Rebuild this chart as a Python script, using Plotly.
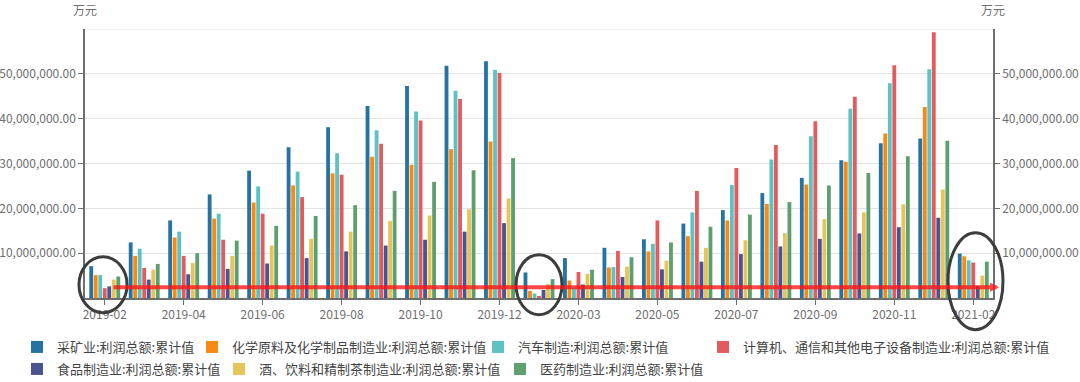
import plotly.graph_objects as go

categories = [
    "2019-02", "2019-03", "2019-04", "2019-05", "2019-06", "2019-07", "2019-08",
    "2019-09", "2019-10", "2019-11", "2019-12",
    "2020-02", "2020-03", "2020-04", "2020-05", "2020-06", "2020-07", "2020-08",
    "2020-09", "2020-10", "2020-11", "2020-12",
    "2021-02",
]
tick_labels = ["2019-02", "2019-04", "2019-06", "2019-08", "2019-10", "2019-12",
               "2020-03", "2020-05", "2020-07", "2020-09", "2020-11", "2021-02"]

mining = [7.1e6, 12.4e6, 17.3e6, 23.1e6, 28.4e6, 33.6e6, 38.1e6, 42.8e6, 47.3e6, 51.8e6, 52.8e6,
          5.7e6, 8.9e6, 11.2e6, 13.1e6, 16.6e6, 19.6e6, 23.4e6, 26.8e6, 30.7e6, 34.5e6, 35.6e6,
          9.9e6]
chemical = [5.1e6, 9.4e6, 13.5e6, 17.7e6, 21.3e6, 25.1e6, 27.8e6, 31.5e6, 29.7e6, 33.2e6, 34.9e6,
            1.6e6, 3.9e6, 6.8e6, 10.4e6, 13.8e6, 17.3e6, 21.0e6, 25.3e6, 30.4e6, 36.7e6, 42.6e6,
            9.3e6]
auto = [5.1e6, 11.0e6, 14.8e6, 18.8e6, 24.9e6, 28.2e6, 32.3e6, 37.4e6, 41.6e6, 46.2e6, 50.9e6,
        1.0e6, 2.2e6, 6.9e6, 12.1e6, 19.1e6, 25.2e6, 30.9e6, 36.1e6, 42.2e6, 47.9e6, 51.0e6,
        8.4e6]
electronics = [2.2e6, 6.7e6, 9.4e6, 13.0e6, 18.8e6, 22.5e6, 27.5e6, 34.4e6, 39.6e6, 44.4e6, 50.2e6,
               0.4e6, 5.8e6, 10.5e6, 17.3e6, 23.9e6, 29.0e6, 34.1e6, 39.4e6, 44.9e6, 51.9e6, 59.3e6,
               7.9e6]
food = [2.6e6, 4.1e6, 5.3e6, 6.5e6, 7.7e6, 8.9e6, 10.4e6, 11.7e6, 13.0e6, 14.8e6, 16.7e6,
        1.8e6, 3.0e6, 4.7e6, 6.4e6, 8.1e6, 9.8e6, 11.5e6, 13.2e6, 14.4e6, 15.8e6, 17.9e6,
        2.7e6]
beverage = [4.1e6, 6.3e6, 7.8e6, 9.4e6, 11.7e6, 13.2e6, 14.8e6, 17.2e6, 18.4e6, 19.8e6, 22.2e6,
            3.1e6, 5.4e6, 7.0e6, 8.3e6, 11.2e6, 12.9e6, 14.5e6, 17.6e6, 19.1e6, 20.9e6, 24.2e6,
            5.0e6]
pharma = [4.8e6, 7.6e6, 10.0e6, 12.8e6, 16.1e6, 18.3e6, 20.7e6, 23.9e6, 25.9e6, 28.5e6, 31.2e6,
          4.2e6, 6.3e6, 9.1e6, 12.4e6, 15.9e6, 18.6e6, 21.4e6, 25.1e6, 27.9e6, 31.6e6, 35.1e6,
          8.1e6]

series_names = [
    "采矿业:利润总额:累计值",
    "化学原料及化学制品制造业:利润总额:累计值",
    "汽车制造:利润总额:累计值",
    "计算机、通信和其他电子设备制造业:利润总额:累计值",
    "食品制造业:利润总额:累计值",
    "酒、饮料和精制茶制造业:利润总额:累计值",
    "医药制造业:利润总额:累计值",
]
series_values = [mining, chemical, auto, electronics, food, beverage, pharma]
colors = ["#2473a3", "#f88a14", "#5ec2c2", "#e05c5f", "#4a5490", "#e6c45c", "#5f9e6e"]

y_ticks = [10e6, 20e6, 30e6, 40e6, 50e6]
y_max = 60e6
line_level = 2.4e6
unit = "万元"

FONT = "Noto Sans CJK SC, Microsoft YaHei, sans-serif"
W, H = 1080, 382

# legend entry positions (text start x, row centre y) in pixels
legend_pos = [(57, 347), (232, 347), (518, 347), (743, 347),
              (57, 369), (259, 369), (540, 369)]

fig = go.Figure()
for i, (name, vals, c) in enumerate(zip(series_names, series_values, colors)):
    lg = "legend" if i == 0 else f"legend{i + 1}"
    fig.add_trace(go.Bar(x=categories, y=vals, name=name, legend=lg,
                         marker=dict(color=c, line=dict(width=0))))

fig.add_trace(go.Scatter(x=[categories[0]], y=[None], yaxis="y2", showlegend=False,
                         hoverinfo="skip", mode="lines"))

tick_text = [f"{v:,.2f}" for v in y_ticks]
axis_common = dict(
    range=[0, y_max], tickmode="array", tickvals=y_ticks, ticktext=tick_text,
    showline=True, linecolor="#6e6e6e", linewidth=1.5, ticks="outside", ticklen=5,
    tickcolor="#6e6e6e", tickfont=dict(size=12, color="#6e6e6e", family=FONT),
    zeroline=False, fixedrange=True, automargin=False,
)

layout_legends = {}
for i, (tx, ty) in enumerate(legend_pos):
    key = "legend" if i == 0 else f"legend{i + 1}"
    layout_legends[key] = dict(
        orientation="h", xref="container", yref="container",
        x=(tx - 40) / W, xanchor="left", y=1 - ty / H, yanchor="middle",
        font=dict(size=13, color="#444", family=FONT),
        itemwidth=30, bgcolor="rgba(0,0,0,0)", borderwidth=0,
    )

fig.update_layout(
    width=W, height=H,
    margin=dict(l=85, r=87, t=29, b=84, autoexpand=False),
    paper_bgcolor="white", plot_bgcolor="white",
    barmode="group", bargap=0.2, bargroupgap=0.15,
    font=dict(family=FONT, color="#555"),
    xaxis=dict(
        type="category", range=[-0.5, len(categories) - 0.5],
        tickmode="array", tickvals=tick_labels, ticktext=tick_labels,
        showline=True, linecolor="#6e6e6e", linewidth=1.5, ticks="outside", ticklen=5,
        tickcolor="#6e6e6e", tickfont=dict(size=12, color="#6e6e6e", family=FONT),
        showgrid=False, automargin=False, fixedrange=True,
    ),
    yaxis=dict(showgrid=True, gridcolor="#e3e3e3", gridwidth=1, **axis_common),
    yaxis2=dict(overlaying="y", side="right", showgrid=False, **axis_common),
    showlegend=True,
    **layout_legends,
)

# top grid line at axis max
fig.add_shape(type="line", xref="paper", yref="y", x0=0, x1=1, y0=y_max, y1=y_max,
              line=dict(color="#e3e3e3", width=1), layer="below")

# unit labels
for xp in (0.0, 1.0):
    fig.add_annotation(text=unit, xref="paper", yref="paper", x=xp, y=1.072,
                       xanchor="center", yanchor="middle",
                       showarrow=False, font=dict(size=12, color="#6e6e6e", family=FONT))

# red reference line with arrow
fig.add_annotation(text="", xref="paper", yref="y", x=1.0066, y=line_level,
                   ax=-887, ay=0, axref="pixel", ayref="pixel", showarrow=True,
                   arrowhead=2, arrowsize=0.45, arrowwidth=4,
                   arrowcolor="rgba(255,20,20,0.78)")

# highlight ellipses
ellipses = [
    (-0.0066, 0.0463, -0.0547, 0.1535),
    (0.4747, 0.5253, -0.0620, 0.1610),
    (0.9504, 1.0110, -0.1180, 0.2428),
]
for x0, x1, y0, y1 in ellipses:
    fig.add_shape(type="circle", xref="paper", yref="paper", x0=x0, x1=x1, y0=y0, y1=y1,
                  line=dict(color="#3d3d3d", width=3), layer="above")

fig.write_html("out.html", config={"displayModeBar": False},
               post_script="document.body.style.margin='0px';")
